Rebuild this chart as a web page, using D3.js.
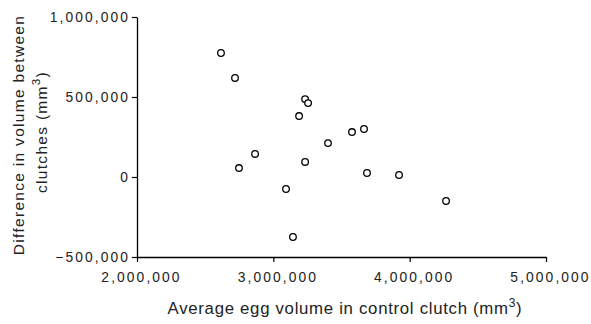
<!DOCTYPE html>
<html lang="en">
<head>
<meta charset="utf-8">
<title>Egg volume scatter</title>
<script src="https://cdn.jsdelivr.net/npm/d3@7"></script>
<style>
  body { margin: 0; background: #fff; }
  text { font-family: "Liberation Sans", Arial, sans-serif; fill: #222; }
</style>
</head>
<body>
<script>
// data
var eggVolume = [2616000, 2719000, 3233000, 3255000, 3189000, 3401000, 3577000, 3665000,
                 2866000, 2748000, 3233000, 3687000, 3922000, 4267000, 3093000, 3144000];
var volumeDiff = [775000, 619000, 487000, 462000, 381000, 212000, 281000, 300000,
                  144000, 56000, 94000, 25000, 12500, -150000, -75000, -375000];
var xTicks = [2000000, 3000000, 4000000, 5000000];
var yTicks = [-500000, 0, 500000, 1000000];

var w = 591, h = 324;
var mLeft = 137, mRight = 546, mTop = 17, mBottom = 257;

var svg = d3.select("body").append("svg")
    .attr("width", w)
    .attr("height", h);

var x = d3.scaleLinear().domain([2000000, 5000000]).range([mLeft, mRight]);
var y = d3.scaleLinear().domain([-500000, 1000000]).range([mBottom, mTop]);
var fmt = d3.format(",");

var xAxis = svg.append("g")
    .attr("transform", "translate(0," + mBottom + ")")
    .call(d3.axisBottom(x).tickValues(xTicks).tickFormat(fmt).tickSize(5).tickPadding(10).tickSizeOuter(0));

var yAxis = svg.append("g")
    .attr("transform", "translate(" + mLeft + ",0)")
    .call(d3.axisLeft(y).tickValues(yTicks).tickFormat(fmt).tickSize(5).tickPadding(2).tickSizeOuter(0));

[xAxis, yAxis].forEach(function(a) {
  a.select(".domain").attr("stroke", "#000").attr("stroke-width", 1.3);
  a.selectAll(".tick line").attr("stroke", "#000").attr("stroke-width", 1.2);
  a.selectAll(".tick text").attr("font-size", "13.8px").attr("fill", "#222")
    .attr("letter-spacing", "2.1px")
    .attr("font-family", "'Liberation Sans', Arial, sans-serif");
});
xAxis.selectAll(".tick text").attr("dx", 4);

// points
svg.append("g").selectAll("circle")
    .data(eggVolume)
    .enter()
    .append("circle")
    .attr("cx", function(d) { return x(d); })
    .attr("cy", function(d, i) { return y(volumeDiff[i]); })
    .attr("r", 3.3)
    .attr("fill", "#fff")
    .attr("stroke", "#000")
    .attr("stroke-width", 1.3);

// x label
var xl = svg.append("text")
    .attr("x", 345)
    .attr("y", 314)
    .attr("text-anchor", "middle")
    .attr("letter-spacing", "0.7px")
    .attr("font-size", "16.8px");
xl.append("tspan").text("Average egg volume in control clutch (mm");
xl.append("tspan").attr("dy", -7).attr("font-size", "12px").text("3");
xl.append("tspan").attr("dy", 7).text(")");

// y label, two lines
var yl = svg.append("g").attr("transform", "translate(0,135) rotate(-90)");
yl.append("text")
    .attr("x", 0).attr("y", 23.5)
    .attr("text-anchor", "middle")
    .attr("letter-spacing", "1.3px")
    .attr("font-size", "15.5px")
    .text("Difference in volume between");
var yl2 = yl.append("text")
    .attr("x", 3).attr("y", 47)
    .attr("text-anchor", "middle")
    .attr("letter-spacing", "1.3px")
    .attr("font-size", "15.5px");
yl2.append("tspan").text("clutches (mm");
yl2.append("tspan").attr("dy", -7).attr("font-size", "11.5px").text("3");
yl2.append("tspan").attr("dy", 7).text(")");
</script>
</body>
</html>
